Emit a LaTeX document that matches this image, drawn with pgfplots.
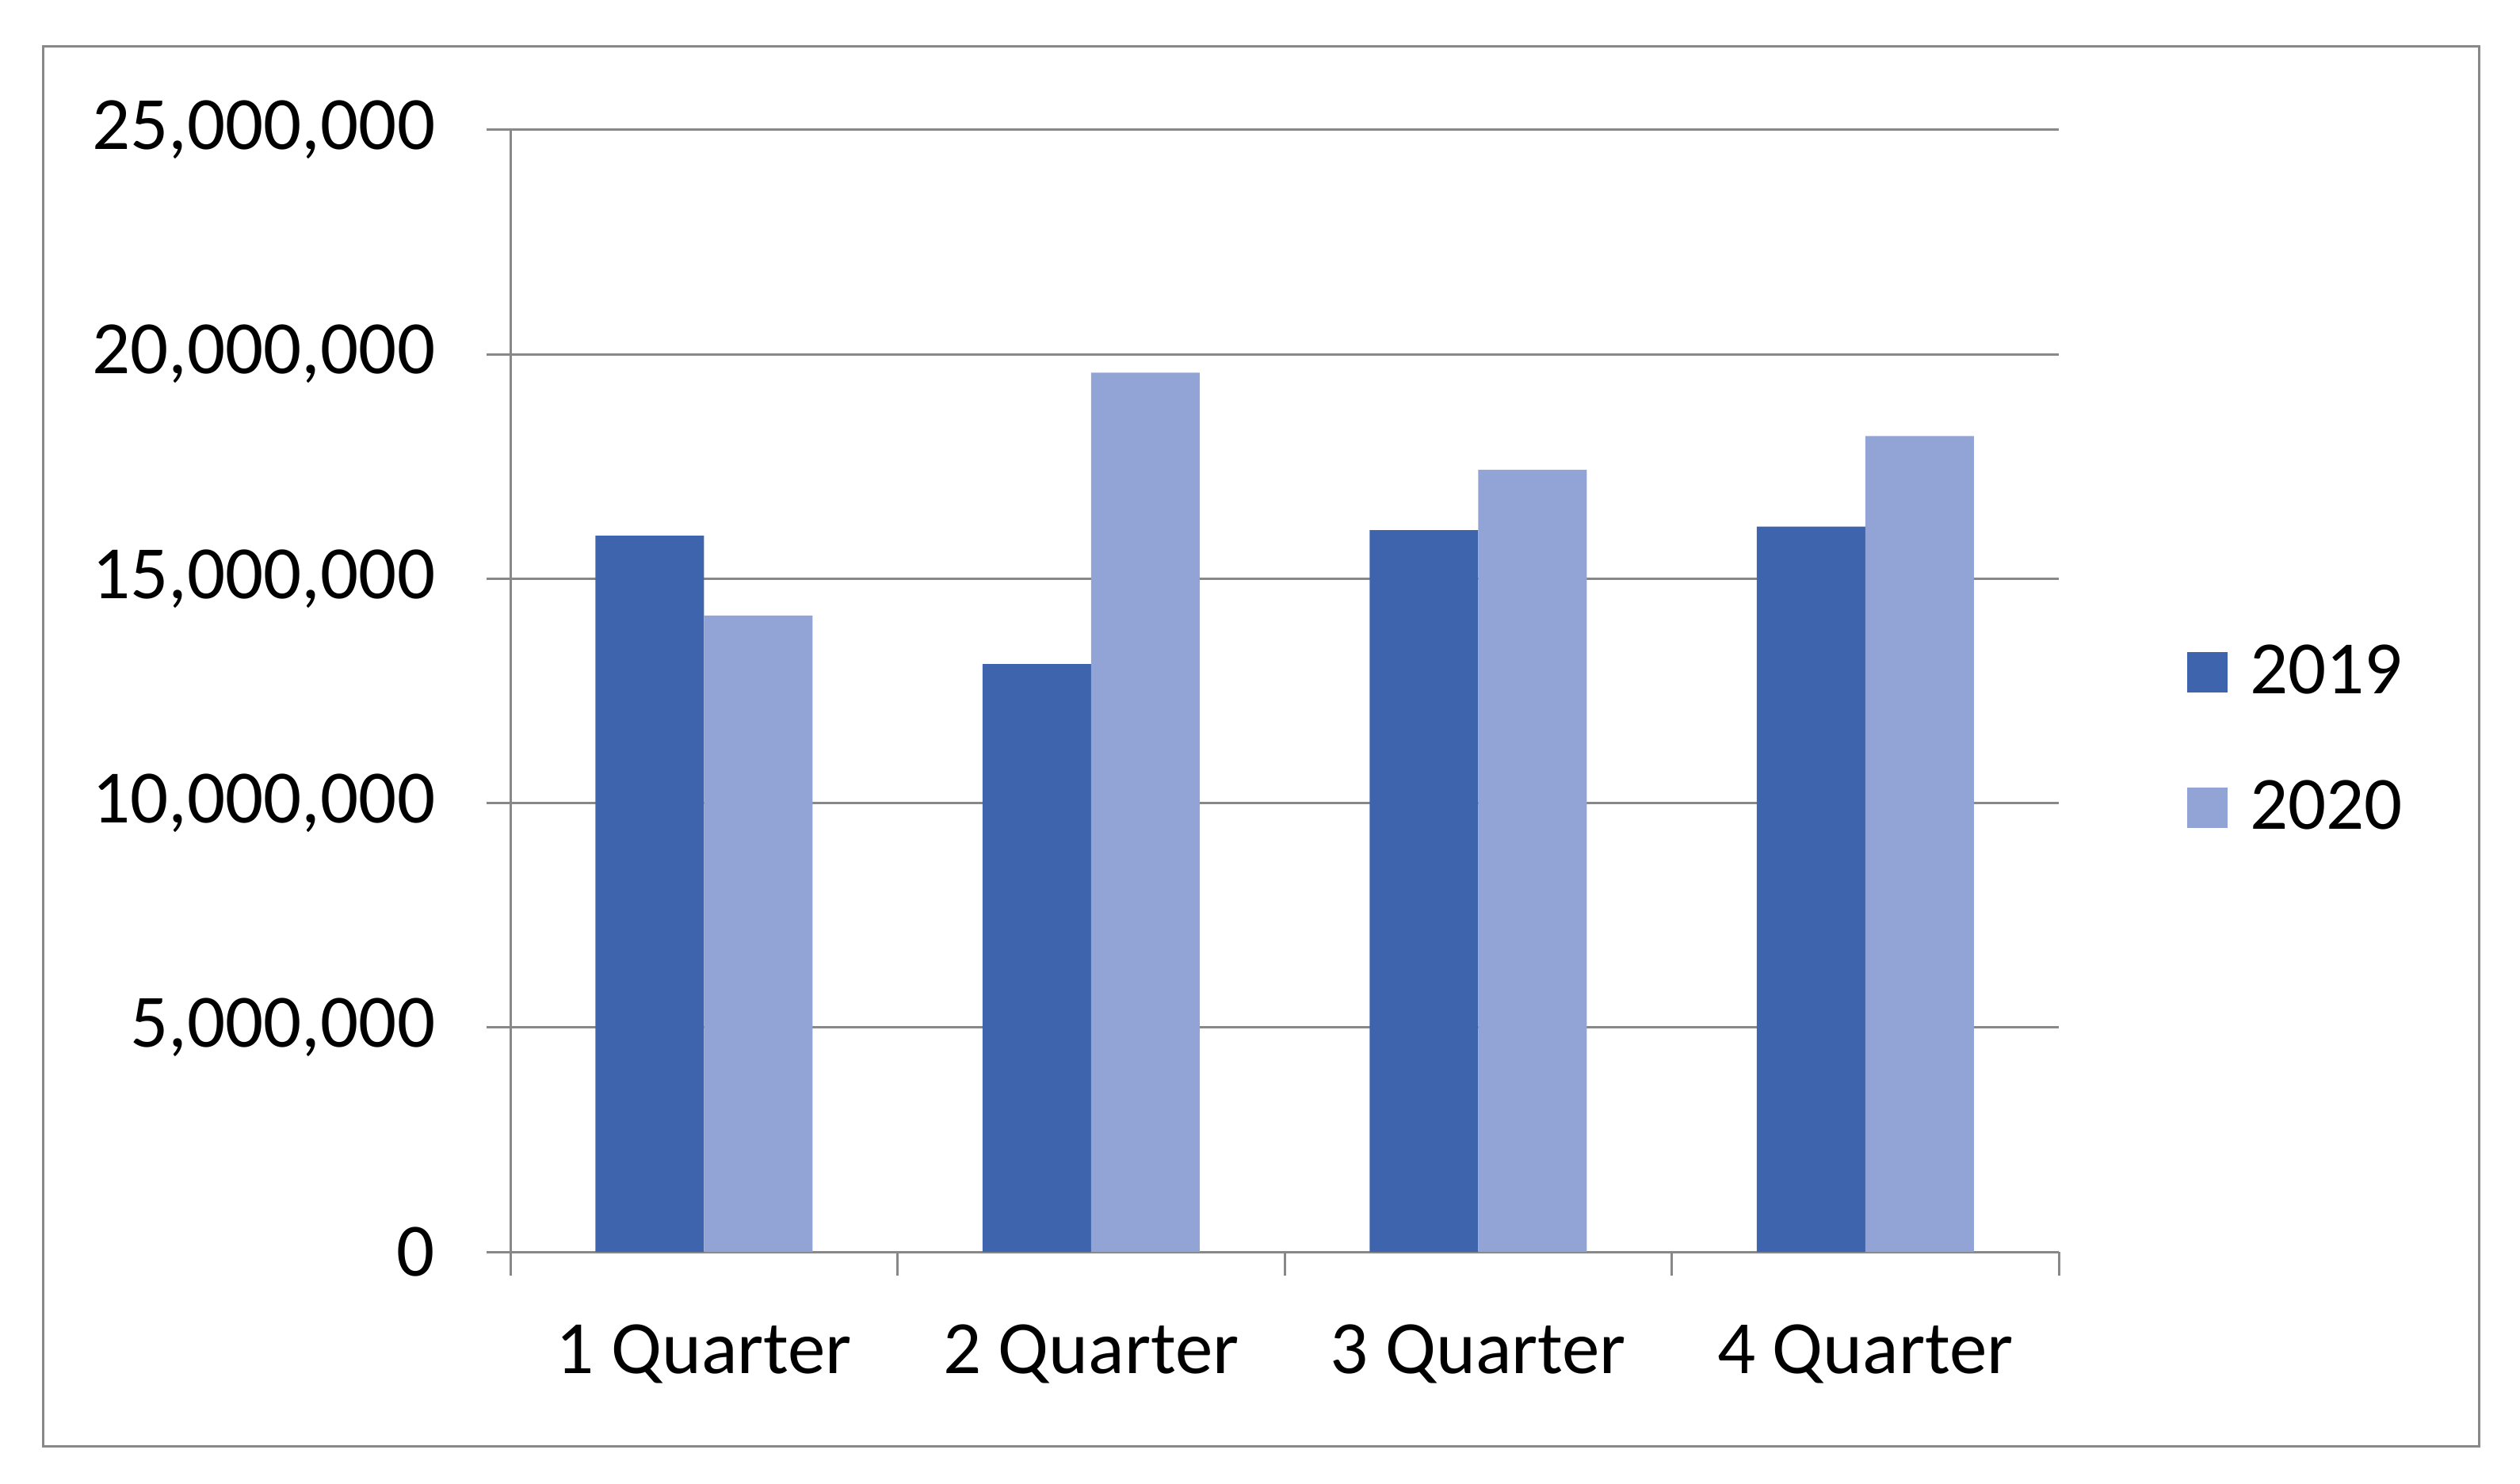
\documentclass[border=0pt]{standalone}
\usepackage{pgfplots}
\pgfplotsset{compat=1.18}
\usepackage{fontspec}
\setmainfont{Carlito}
\definecolor{c19}{HTML}{3D64AD}
\definecolor{c20}{HTML}{91A4D5}
\definecolor{gridc}{HTML}{888888}
\begin{document}
\begin{tikzpicture}[x=1pt,y=1pt]
\useasboundingbox (0,0) rectangle (318,187.2);
\draw[gridc, line width=0.3pt] (5.4,4.7) rectangle (312.8,181.3);
\begin{axis}[
  at={(64.4pt,29.2pt)}, anchor=south west,
  scale only axis, width=195.4pt, height=141.6pt,
  xmin=-0.5, xmax=3.5, ymin=0, ymax=25000000,
  ybar=0pt, bar width=13.7pt,
  xtick={-0.5,0.5,1.5,2.5,3.5}, xticklabels={},
  extra x ticks={0,1,2,3},
  extra x tick labels={1 Quarter,2 Quarter,3 Quarter,4 Quarter},
  extra x tick style={tick style={draw=none}},
  ytick={0,5000000,10000000,15000000,20000000,25000000},
  ymajorgrids, major grid style={gridc, line width=0.3pt},
  axis x line*=bottom, axis y line*=left,
  axis line style={gridc, line width=0.3pt},
  tick align=outside, major tick length=3pt,
  tick style={gridc, line width=0.3pt},
  scaled y ticks=false,
  /pgf/number format/.cd, fixed, 1000 sep={,}, precision=0, assume math mode=true,
  /pgfplots/.cd,
  tick label style={font=\fontsize{9.5}{11}\selectfont, text=black},
  yticklabel style={inner sep=0pt, xshift=-6.3pt},
  xticklabel style={inner sep=0pt, yshift=-6pt},
  legend entries={2019,2020},
  legend style={at={(1.082,0.4537)}, anchor=west, draw=none, fill=none,
    inner sep=0pt, row sep=9.4pt, font=\fontsize{9.5}{11}\selectfont,
    nodes={inner sep=0pt}},
  legend image code/.code={\fill[#1,draw=none] (0pt,-2.2pt) rectangle (5.1pt,2.9pt); \path (7.9pt,0pt);},
]
\addplot[fill=c19, draw=none] coordinates {(0,15960000) (1,13100000) (2,16080000) (3,16160000)};
\addplot[fill=c20, draw=none] coordinates {(0,14180000) (1,19590000) (2,17430000) (3,18180000)};
\end{axis}
\end{tikzpicture}
\end{document}
